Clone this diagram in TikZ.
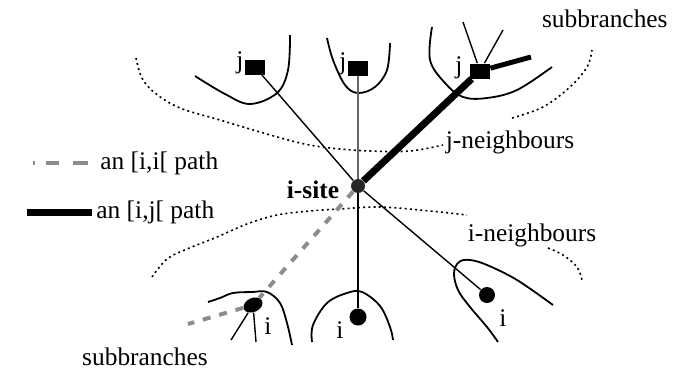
\documentclass[tikz,border=0pt]{standalone}
\usepackage{fontspec}
\setmainfont{Liberation Serif}
\usetikzlibrary{shapes.geometric}
\begin{document}
\begin{tikzpicture}[x=0.5pt, y=-0.5pt,
  lbl/.style={font=\fontsize{12.7}{15}\selectfont, inner sep=0pt},
  lblbf/.style={font=\fontsize{12.7}{15}\selectfont\bfseries, inner sep=0pt},
  jsite/.style={rectangle, fill=black, minimum width=10pt, minimum height=7.5pt, inner sep=0pt},
  isite/.style={circle, fill=black, minimum size=8.5pt, inner sep=0pt},
  hood/.style={line width=0.9pt},
  bound/.style={line width=0.8pt, dash pattern=on 1pt off 1.6pt},
  link/.style={line width=0.7pt},
  ijpath/.style={line width=3.5pt},
  iipath/.style={black!45, line width=2pt, dash pattern=on 4pt off 4.5pt}]
\useasboundingbox (0,0) rectangle (673,370);

% Sites
\node[circle, fill=black!85, minimum size=7pt, inner sep=0pt] (site) at (358,186) {};
\node[lblbf] (sitelbl) at (313,190) {i-site};
\node[jsite] (j1) at (255,67) {};
\node[jsite] (j2) at (358,68) {};
\node[jsite] (j3) at (480,71) {};
\node[lbl] (j1lbl) at (240,63) {j};
\node[lbl] (j2lbl) at (343,64) {j};
\node[lbl] (j3lbl) at (459,68) {j};
\node[isite, ellipse, minimum width=10pt, minimum height=7pt, rotate=25] (i1) at (253,305) {};
\node[isite] (i2) at (358,317) {};
\node[isite, minimum size=8pt] (i3) at (487,295) {};
\node[lbl] (i1lbl) at (268,326) {i};
\node[lbl] (i2lbl) at (340,330) {i};
\node[lbl] (i3lbl) at (503,318) {i};

% Neighbourhoods of the j and i sites
\draw[hood] plot[smooth, tension=0.6] coordinates {(195,76) (225,94) (250,104) (277,93) (288,70) (290,35)};
\draw[hood] plot[smooth, tension=0.6] coordinates {(327,38) (333,60) (345,85) (358,93) (375,87) (387,70) (390,43)};
\draw[hood] plot[smooth, tension=0.6] coordinates {(432,27) (430,60) (445,83) (463,97) (487,98) (517,90) (552,67)};
\draw[hood] plot[smooth, tension=0.6] coordinates {(208,302) (220,298) (233,293) (252,292) (267,292) (280,303) (287,323) (292,345)};
\draw[hood] plot[smooth, tension=0.6] coordinates {(312,342) (313,325) (327,303) (347,293) (362,292) (380,306) (390,327) (393,340)};
\draw[hood] plot[smooth, tension=0.6] coordinates {(498,342) (487,327) (470,307) (458,290) (454,273) (459,262) (470,260) (487,265) (517,280) (553,305)};

% Boundaries of the neighbour shells
\draw[bound] plot[smooth, tension=0.6] coordinates {(136,58) (142,78) (155,93) (180,108) (220,120) (260,132) (300,143) (330,148) (370,151) (410,151) (443,145)};
\draw[bound] plot[smooth, tension=0.6] coordinates {(512,118) (543,107) (570,87) (587,67) (592,50)};
\draw[bound] plot[smooth, tension=0.6] coordinates {(152,277) (167,259) (187,249) (217,237) (247,224) (277,215) (310,211) (340,209) (380,207) (430,211) (467,215)};
\draw[bound] plot[smooth, tension=0.6] coordinates {(548,248) (563,255) (577,267) (582,280)};
\node[lbl] (jnb) at (510,142) {j-neighbours};
\node[lbl] (inb) at (532,235) {i-neighbours};

% Paths from the i-site
\draw[link] (site) -- (j1);
\draw[link, black!60] (site) -- (j2);
\draw[link] (site) -- (i2);
\draw[link] (site) -- (i3);
\draw[iipath] (site) -- (i1);
\draw[ijpath] (site) -- (j3);

% Subbranches
\coordinate (sbj1) at (463,22);
\coordinate (sbj2) at (503,30);
\coordinate (sbj3) at (531,57);
\draw[link] (j3) -- (sbj1);
\draw[link] (j3) -- (sbj2);
\draw[line width=2.5pt] (j3) -- (sbj3);
\coordinate (sbi1) at (188,324);
\coordinate (sbi2) at (231,340);
\coordinate (sbi3) at (256,342);
\draw[iipath] (i1) -- (sbi1);
\draw[link] (i1) -- (sbi2);
\draw[link] (i1) -- (sbi3);
\node[lbl, anchor=east] (sbtop) at (668,19) {subbranches};
\node[lbl] (sbbot) at (145,357) {subbranches};

% Legend
\coordinate (lgA) at (33,163);
\coordinate (lgB) at (88,163);
\draw[iipath, dash pattern=on 1pt off 5.5pt on 6.5pt off 7pt on 7.5pt off 20pt] (lgA) -- (lgB);
\node[lbl, anchor=west] (lgii) at (100,163) {an [i,i[ path};
\coordinate (lgC) at (27,212);
\coordinate (lgD) at (92,212);
\draw[ijpath] (lgC) -- (lgD);
\node[lbl, anchor=west] (lgij) at (96,212) {an [i,j[ path};
\end{tikzpicture}
\end{document}
